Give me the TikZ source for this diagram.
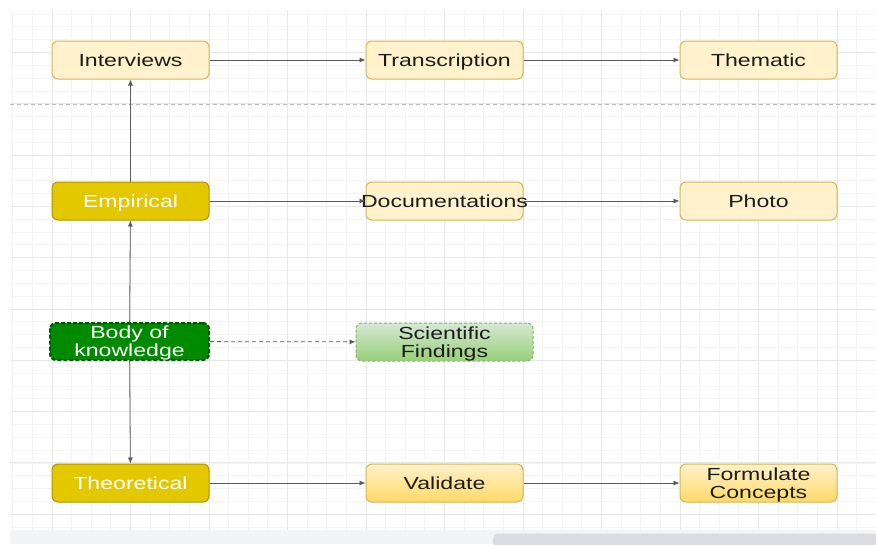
\documentclass[tikz,border=0pt]{standalone}
\usepackage{fontspec}
\setmainfont[FakeStretch=1.32]{Liberation Sans}
\usetikzlibrary{arrows.meta}
\definecolor{txt}{HTML}{1C1C1C}
\definecolor{ylfill}{HTML}{FFF2CC}
\definecolor{ylborder}{HTML}{D6B656}
\definecolor{goldfill}{HTML}{E3C800}
\definecolor{goldborder}{HTML}{B09500}
\definecolor{grfill}{HTML}{008A00}
\definecolor{grborder}{HTML}{005700}
\definecolor{lgtop}{HTML}{D5E8D4}
\definecolor{lgbot}{HTML}{97D077}
\definecolor{lgborder}{HTML}{82B366}
\definecolor{ygbot}{HTML}{FFD966}
\definecolor{conncol}{HTML}{5A5A5A}
\definecolor{minorgrid}{HTML}{F4F4F4}
\definecolor{majorgrid}{HTML}{E8E8E8}
\definecolor{barbg}{HTML}{F3F4F6}
\definecolor{scrollc}{HTML}{DADCE0}
\begin{document}
\begin{tikzpicture}[x=1pt,y=-1pt,
  box/.style={rectangle, rounded corners=6pt, minimum width=157pt, minimum height=38pt,
    inner sep=0pt, text height=12.6pt, text depth=0pt,
    font=\fontsize{17.5}{17.7}\selectfont, text=txt, align=center, line width=1pt},
  twoline/.style={text height=30.3pt, text depth=0pt},
  light/.style={box, fill=ylfill, draw=ylborder},
  gold/.style={box, fill=goldfill, draw=goldborder, text=white},
  grad/.style={box, top color=ylfill, bottom color=ygbot, draw=ylborder},
  conn/.style={draw=conncol, line width=0.8pt, -{Latex[length=6pt,width=5pt]}}]
\useasboundingbox (0,0) rectangle (876,544);
\fill[white] (0,0) rectangle (876,544);
% grid
\begin{scope}
\clip (10,10) rectangle (876,530);
\foreach \k in {-2,...,42} \draw[minorgrid, line width=0.8pt] ({52+\k*19.625},10) -- ({52+\k*19.625},530);
\foreach \k in {-4,...,40} \draw[minorgrid, line width=0.8pt] (10,{52.5+\k*12.825}) -- (876,{52.5+\k*12.825});
\foreach \k in {-1,...,11} \draw[majorgrid, line width=1pt] ({52+\k*78.5},10) -- ({52+\k*78.5},530);
\foreach \k in {-1,...,10} \draw[majorgrid, line width=1pt] (10,{52.5+\k*51.3}) -- (876,{52.5+\k*51.3});
\end{scope}
% bottom bar
\fill[barbg] (10,530) rectangle (876,544);
\fill[scrollc, rounded corners=5pt] (493,533.5) rectangle (886,548);
% dashed separator
\draw[draw=black!28, line width=0.9pt, dash pattern=on 4pt off 3pt] (10,104.5) -- (876,104.5);
% nodes
\node[light] (interviews) at (130.5,60) {Interviews};
\node[light] (transcription) at (444.5,60) {Transcription};
\node[light] (thematic) at (758.5,60) {Thematic};
\node[gold] (empirical) at (130.5,201) {Empirical};
\node[light] (documentations) at (444.5,201) {\makebox[0pt][c]{Documentations}};
\node[light] (photo) at (758.5,201) {Photo};
\node[box, twoline, minimum width=159pt, minimum height=37pt, fill=grfill, draw=grborder, text=white, line width=2pt, dash pattern=on 4pt off 2pt] (body) at (129.5,341.5) {Body of\\knowledge};
\node[box, twoline, minimum width=177pt, minimum height=38pt, top color=lgtop, bottom color=lgbot, draw=lgborder, dash pattern=on 3pt off 2pt] (findings) at (444.5,342) {Scientific\\Findings};
\node[gold] (theoretical) at (130.5,483) {Theoretical};
\node[grad] (validate) at (444.5,483) {Validate};
\node[grad, twoline] (formulate) at (758.5,483) {Formulate\\Concepts};
% connectors
\draw[conn] (interviews) -- (transcription);
\draw[conn] (transcription) -- (thematic);
\draw[conn] (empirical) -- (documentations);
\draw[conn] (documentations) -- (photo);
\draw[conn] (empirical) -- (interviews);
\draw[conn] (body) -- (empirical);
\draw[conn] (body) -- (theoretical);
\draw[conn, dash pattern=on 4pt off 3pt] (body) -- (findings);
\draw[conn] (theoretical) -- (validate);
\draw[conn] (validate) -- (formulate);
\end{tikzpicture}
\end{document}
